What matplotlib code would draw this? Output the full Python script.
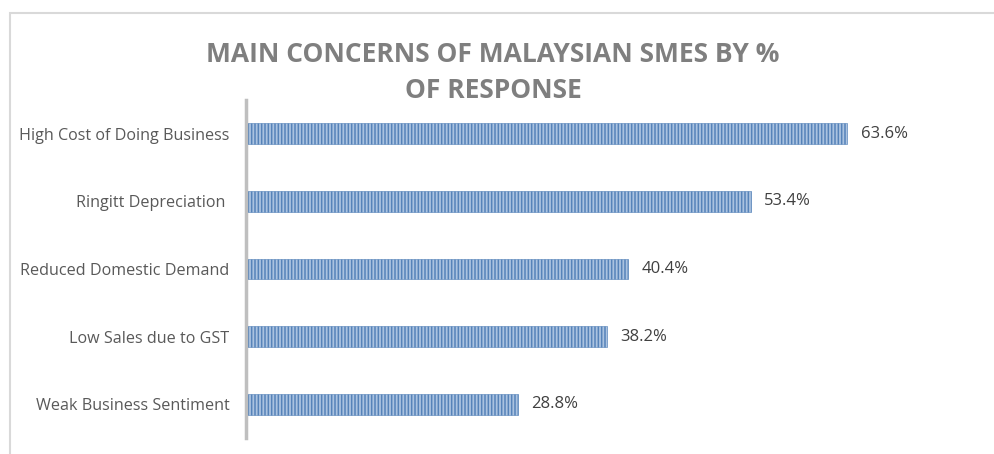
import matplotlib.pyplot as plt
import matplotlib.patches as mpatches

# data
concerns = [
    "High Cost of Doing Business",
    "Ringitt Depreciation ",
    "Reduced Domestic Demand",
    "Low Sales due to GST",
    "Weak Business Sentiment",
]
percent = [63.6, 53.4, 40.4, 38.2, 28.8]

title_lines = ["MAIN CONCERNS OF MALAYSIAN SMES BY %", "OF RESPONSE"]

plt.rcParams["font.family"] = ["Open Sans", "DejaVu Sans"]
plt.rcParams["hatch.linewidth"] = 1.1

fig = plt.figure(figsize=(9.94, 4.54), dpi=100)
ax = fig.add_axes([0.2475, 0.0352, 0.666, 0.7445])

# outer chart frame (light gray, runs off the right/bottom edge)
frame = mpatches.Rectangle((10 / 994, -0.05), 1.2, 1 - 13 / 454 + 0.05,
                           transform=fig.transFigure, fill=False,
                           edgecolor="#d9d9d9", linewidth=1.5)
fig.patches.append(frame)

y_pos = list(range(len(concerns)))
ax.barh(y_pos, percent, height=0.31, facecolor="#abc3e0",
        edgecolor="#5683b9", hatch="|||||", linewidth=0.4)

for y, v in zip(y_pos, percent):
    ax.text(v + 1.4, y, f"{v}%", va="center", ha="left",
            fontsize=12, color="#404040")

ax.set_xlim(0, 70)
ax.set_ylim(len(concerns) - 0.5, -0.5)
ax.set_yticks(y_pos)
ax.set_yticklabels(concerns, fontsize=11.6, color="#595959")
ax.tick_params(axis="y", length=0, pad=12)
ax.set_xticks([])

for side in ["top", "right", "bottom"]:
    ax.spines[side].set_visible(False)
ax.spines["left"].set_color("#bfbfbf")
ax.spines["left"].set_linewidth(2.5)

fig.text(0.496, 1 - 55 / 454, title_lines[0], ha="center", va="center",
         fontsize=19, fontweight="bold", color="#7f7f7f")
fig.text(0.496, 1 - 91 / 454, title_lines[1], ha="center", va="center",
         fontsize=19, fontweight="bold", color="#7f7f7f")

fig.savefig("out.png", dpi=100)
